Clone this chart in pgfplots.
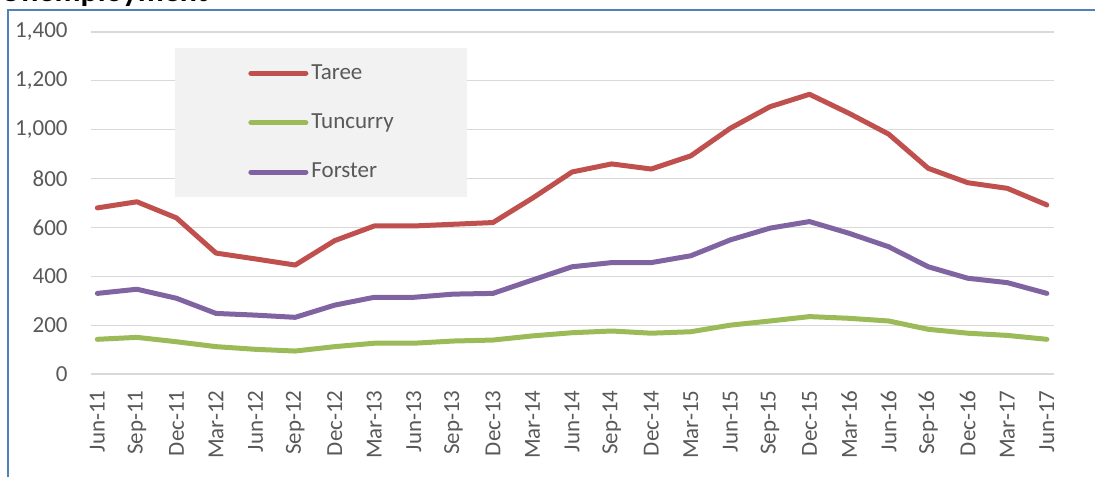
\documentclass[border=0pt]{standalone}
\usepackage{fontspec}
\setmainfont{Carlito}
\usepackage{pgfplots}
\usepackage{pgfplotstable}
\pgfplotsset{compat=1.18}
\definecolor{Taree}{HTML}{C0504D}
\definecolor{Tuncurry}{HTML}{9BBB59}
\definecolor{Forster}{HTML}{8064A2}
\definecolor{labelgray}{HTML}{595959}
\definecolor{gridgray}{HTML}{D9D9D9}
\definecolor{legendfill}{HTML}{F2F2F2}
\definecolor{frameblue}{HTML}{4F81BD}

% quarterly values
\pgfplotstableread{
idx taree tuncurry forster
0  680 142 330
1  705 150 347
2  639 132 310
3  495 112 248
4  471 101 241
5  446  94 232
6  546 112 282
7  606 126 314
8  606 126 314
9  613 135 327
10 620 139 330
11 720 156 385
12 827 169 439
13 860 176 456
14 839 167 456
15 893 173 484
16 1006 200 549
17 1094 217 597
18 1145 235 624
19 1067 228 576
20 982 217 521
21 842 183 439
22 783 167 392
23 760 158 374
24 692 142 330
}\unemp

\begin{document}
\begin{tikzpicture}
\begin{axis}[
    at={(45.5pt,51.5pt)}, anchor=south west,
    scale only axis,
    width=481.5pt, height=171pt,
    xmin=-0.16, xmax=24.18,
    ymin=0, ymax=1400,
    xtick={0,...,24},
    xticklabels={Jun-11,Sep-11,Dec-11,Mar-12,Jun-12,Sep-12,Dec-12,Mar-13,Jun-13,Sep-13,Dec-13,Mar-14,Jun-14,Sep-14,Dec-14,Mar-15,Jun-15,Sep-15,Dec-15,Mar-16,Jun-16,Sep-16,Dec-16,Mar-17,Jun-17},
    ytick={0,200,...,1400},
    axis line style={draw=none},
    major tick length=0pt,
    ymajorgrids,
    grid style={color=gridgray, line width=0.6pt},
    tick label style={font=\fontsize{11.5}{13}\selectfont, text=labelgray, inner sep=0pt},
    xticklabel style={rotate=90, anchor=east},
    yticklabel style={anchor=east},
    xticklabel shift=8pt,
    yticklabel shift=11.5pt,
    /pgf/number format/1000 sep={,},
    /pgf/number format/assume math mode=true,
    legend cell align=left,
    legend style={
        at={(0.0872,0.953)}, anchor=north west,
        fill=legendfill, draw=none,
        inner xsep=36.5pt, inner ysep=8pt,
        row sep=15.8pt,
        font=\fontsize{11.5}{13}\selectfont, text=labelgray,
        nodes={inner sep=0pt},
        /tikz/column sep=1.5pt,
    },
    legend image code/.code={\draw[#1] (0pt,0pt) -- (27.5pt,0pt);},
    every axis plot/.append style={line width=2.5pt, line join=round, line cap=round},
]
\addplot[Taree] table[x=idx, y=taree] {\unemp};
\addlegendentry{Taree}
\addplot[Tuncurry] table[x=idx, y=tuncurry] {\unemp};
\addlegendentry{Tuncurry}
\addplot[Forster] table[x=idx, y=forster] {\unemp};
\addlegendentry{Forster}
\end{axis}

% title, cut off by the top of the picture as in the original
\node[anchor=base west, inner sep=0pt, font=\bfseries\fontsize{16}{19}\selectfont]
    at (0pt,237.8pt) {Unemployment};
\draw[frameblue, line width=1pt] (4pt,0pt) -- (4pt,233.5pt) -- (548pt,233.5pt);

\pgfresetboundingbox
\useasboundingbox (0pt,0pt) rectangle (547.5pt,238.5pt);
\end{tikzpicture}
\end{document}
